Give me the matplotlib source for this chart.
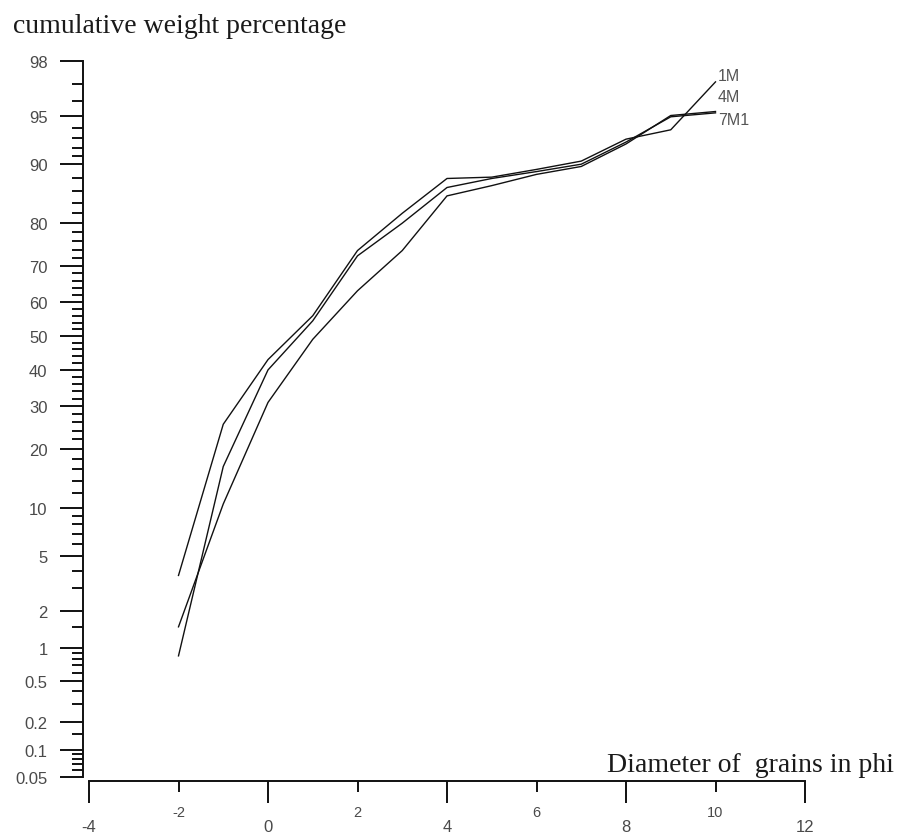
#!/usr/bin/env python3

import statistics

import matplotlib
matplotlib.use('Agg')
import matplotlib.pyplot as plt
import numpy as np

# data (phi diameter vs cumulative weight %)
phi = [-2, -1, 0, 1, 2, 3, 4, 5, 6, 7, 8, 9, 10]
series_names = ['1M', '4M', '7M1']
cum_1m = [3.7, 25.5, 43.0, 56.0, 73.8, 82.0, 88.0, 88.2, 89.3, 90.4, 92.9, 93.8, 97.1]
cum_4m = [0.85, 16.5, 40.0, 54.5, 72.5, 80.0, 86.6, 88.0, 89.0, 90.0, 92.6, 94.9, 95.2]
cum_7m1 = [1.5, 10.5, 31.0, 49.0, 63.2, 73.8, 85.2, 86.9, 88.6, 89.7, 92.4, 95.0, 95.3]
label_offsets = [(2, 6), (2, 16), (3, -8)]   # pixels, end-of-line labels

y_major = [0.05, 0.1, 0.2, 0.5, 1, 2, 5, 10, 20, 30, 40, 50, 60, 70, 80, 90, 95, 98]
y_minor = ([0.06, 0.07, 0.08, 0.09, 0.15, 0.3, 0.4, 0.6, 0.7, 0.8, 0.9, 1.5, 3, 4]
           + [6, 7, 8, 9] + list(range(12, 20, 2)) + [22, 24, 26, 28, 32, 34, 36, 38]
           + [42, 44, 46, 48, 52, 54, 56, 58, 62, 64, 66, 68, 72, 74, 76, 78]
           + [82, 84, 86, 88, 91, 92, 93, 94, 96, 97])
x_major = [-4, 0, 4, 8, 12]
x_minor = [-2, 2, 6, 10]

nd = statistics.NormalDist()


def prob_forward(p):
    p = np.clip(np.asarray(p, dtype=float) / 100.0, 1e-9, 1 - 1e-9)
    return np.vectorize(nd.inv_cdf, otypes=[float])(p)


def prob_inverse(z):
    return np.vectorize(nd.cdf, otypes=[float])(np.asarray(z, dtype=float)) * 100.0


W, H = 897, 837
fig = plt.figure(figsize=(W / 100, H / 100), dpi=100)
ax = fig.add_axes([89 / W, 1 - 778 / H, (805 - 89) / W, (778 - 61.7) / H])

ax.set_yscale('function', functions=(prob_forward, prob_inverse))

for name, vals, off in zip(series_names, [cum_1m, cum_4m, cum_7m1], label_offsets):
    ax.plot(phi, vals, color='#111111', lw=1.0)
    ax.annotate(name, xy=(phi[-1], vals[-1]), xytext=off, textcoords='offset pixels',
                ha='left', va='center', fontsize=11.5, color='#555555',
                family='Liberation Sans')

ax.set_xlim(-4, 12)
ax.set_ylim(0.05, 98)

for s in ['top', 'right']:
    ax.spines[s].set_visible(False)
ax.spines['left'].set_position(('outward', 4.3))
ax.spines['bottom'].set_position(('outward', 2.9))
for s in ['left', 'bottom']:
    ax.spines[s].set_linewidth(1.4)
    ax.spines[s].set_color('#111111')

ax.set_yticks(y_major)
ax.set_yticklabels([f'{v:g}' for v in y_major])
ax.set_yticks(y_minor, minor=True)
ax.set_xticks(x_major)
ax.set_xticklabels([str(v) for v in x_major])
ax.set_xticks(x_minor, minor=True)
ax.set_xticklabels([str(v) for v in x_minor], minor=True)

ax.tick_params(axis='both', which='both', direction='out', width=1.4, color='#111111')
ax.tick_params(axis='y', which='major', length=16.5, pad=9, labelsize=12, labelcolor='#4a4a4a')
ax.tick_params(axis='y', which='minor', length=8)
ax.tick_params(axis='x', which='major', length=16, pad=11, labelsize=12, labelcolor='#4a4a4a')
ax.tick_params(axis='x', which='minor', length=8, pad=9, labelsize=10.5, labelcolor='#4a4a4a')
for lab in ax.get_xticklabels(which='both') + ax.get_yticklabels():
    lab.set_family('Liberation Sans')

fig.text(13 / W, 1 - 33 / H, 'cumulative weight percentage', family='Liberation Serif',
         fontsize=20, color='#1a1a1a', ha='left', va='baseline')
fig.text(894 / W, 1 - 772 / H, 'Diameter of  grains in phi', family='Liberation Serif',
         fontsize=20, color='#1a1a1a', ha='right', va='baseline')

fig.savefig('out.png', dpi=100, facecolor='white')
